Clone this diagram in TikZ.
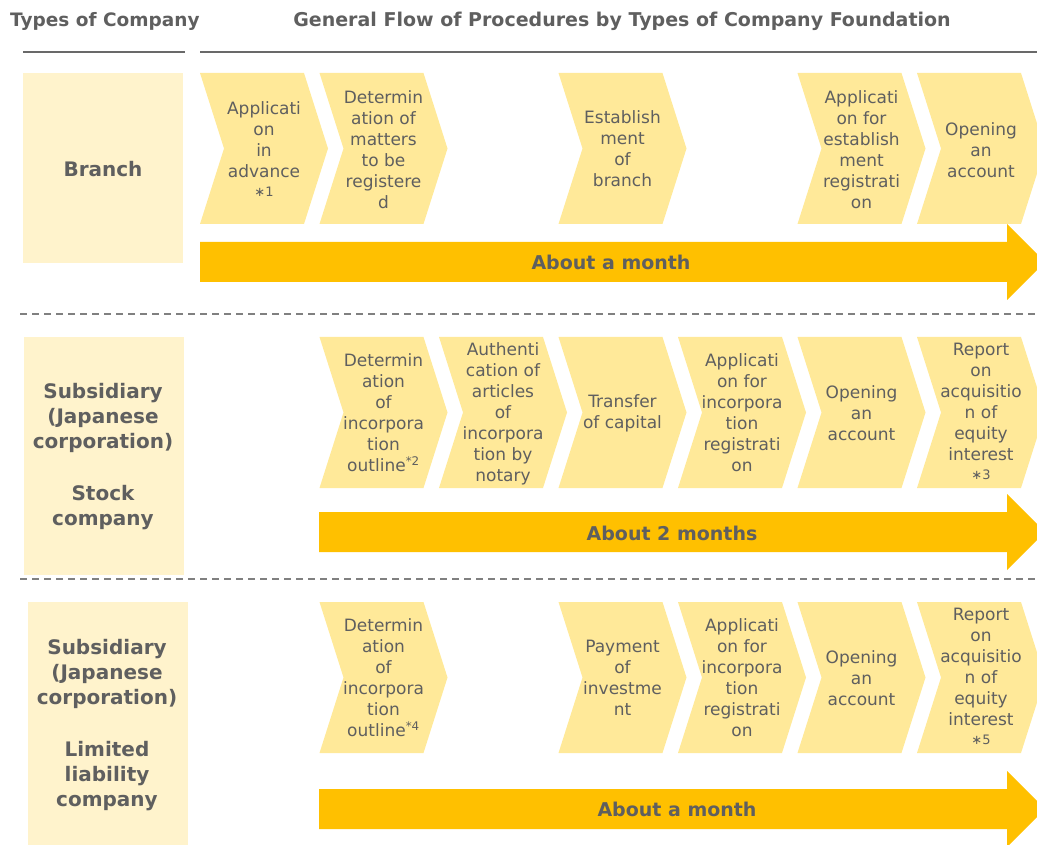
\documentclass[tikz,border=0pt]{standalone}
\usepackage{fontspec}
\setmainfont{DejaVu Sans}
\definecolor{boxyellow}{RGB}{255,243,204}
\definecolor{stepyellow}{RGB}{255,233,153}
\definecolor{barorange}{RGB}{255,192,0}
\definecolor{labelgray}{RGB}{95,95,95}
\definecolor{rulegray}{RGB}{105,105,105}
\definecolor{dashgray}{RGB}{128,128,128}
\tikzset{
	steptext/.style={align=center,text=labelgray,inner sep=0pt,font=\fontsize{17}{21}\selectfont},
	typetext/.style={align=center,text=labelgray,inner sep=0pt,font=\fontsize{20}{25}\selectfont\bfseries},
	headtext/.style={text=labelgray,inner sep=0pt,font=\fontsize{18.5}{22}\selectfont\bfseries},
	bartext/.style={text=labelgray,inner sep=0pt,font=\fontsize{19}{23}\selectfont\bfseries},
	typebox/.style={fill=boxyellow},
	chev/.style={fill=stepyellow},
	bigbar/.style={fill=barorange},
	headrule/.style={draw=rulegray,line width=2.5pt},
	rowsep/.style={draw=dashgray,line width=1.5pt,dash pattern=on 7pt off 5pt}
}
\newcommand{\fnmark}[1]{{\fontsize{13}{13}\selectfont ∗#1}}
\begin{document}
\begin{tikzpicture}[x=1pt,y=-1pt]
		\useasboundingbox (0,0) rectangle (1037,845);
		\clip (0,0) rectangle (1037,845);
			\node (hdtype) [headtext,anchor=west] at (10,21) {Types of Company};
			\node (hdflow) [headtext,font=\fontsize{19}{22}\selectfont\bfseries] at (622,21) {General Flow of Procedures by Types of Company Foundation};
			\draw [headrule] (23,52) -- (185,52);
			\draw [headrule] (200,52) -- (1037,52);
			\draw [rowsep] (20,314) -- (1037,314);
			\draw [rowsep] (20,579) -- (1037,579);
			\fill [typebox] (23,73) rectangle (183,263);
			\fill [typebox] (24,337) rectangle (184,575);
			\fill [typebox] (28,602) rectangle (188,845);
			\node (branch) [typetext] at (103,169) {Branch};
			\node (stock) [typetext] at (103,457) {Subsidiary\\(Japanese\\corporation)\\[27pt]Stock\\company};
			\node (llc) [typetext] at (107,725) {Subsidiary\\(Japanese\\corporation)\\[27pt]Limited\\liability\\company};
			\foreach \x/\y in {200/73,319.5/73,558.5/73,797.5/73,917/73,
				319.5/337,439/337,558.5/337,678/337,797.5/337,917/337,
				319.5/602,558.5/602,678/602,797.5/602,917/602}
				\fill [chev] (\x,\y) -- ++(104,0) -- ++(24,75.5) -- ++(-24,75.5) -- ++(-104,0) -- ++(24,-75.5) -- cycle;
			\node (advance) [steptext] at (264,149) {Applicati\\on\\in\\advance\\[-2pt]\fnmark{1}};
			\node (matters) [steptext] at (383.5,149.5) {Determin\\ation of\\matters\\to be\\registere\\d};
			\node (estab) [steptext] at (622.5,149) {Establish\\ment\\of\\branch};
			\node (estabreg) [steptext] at (861.5,149.5) {Applicati\\on for\\establish\\ment\\registrati\\on};
			\node (accbranch) [steptext] at (981,150) {Opening\\an\\account};
			\node (outlinestock) [steptext] at (383.5,412.5) {Determin\\ation\\of\\incorpora\\tion\\outline\textsuperscript{*2}};
			\node (notary) [steptext] at (503,413.5) {Authenti\\cation of\\articles\\of\\incorpora\\tion by\\notary};
			\node (capital) [steptext] at (622.5,413) {Transfer\\of capital};
			\node (regstock) [steptext] at (742,413) {Applicati\\on for\\incorpora\\tion\\registrati\\on};
			\node (accstock) [steptext] at (861.5,413.5) {Opening\\an\\account};
			\node (reportstock) [steptext] at (981,411) {Report\\on\\acquisitio\\n of\\equity\\interest\\[-2pt]\fnmark{3}};
			\node (outlinellc) [steptext] at (383.5,677.5) {Determin\\ation\\of\\incorpora\\tion\\outline\textsuperscript{*4}};
			\node (invest) [steptext] at (622.5,678) {Payment\\of\\investme\\nt};
			\node (regllc) [steptext] at (742,678) {Applicati\\on for\\incorpora\\tion\\registrati\\on};
			\node (accllc) [steptext] at (861.5,678.5) {Opening\\an\\account};
			\node (reportllc) [steptext] at (981,676) {Report\\on\\acquisitio\\n of\\equity\\interest\\[-2pt]\fnmark{5}};
			\fill [bigbar] (200,242) -- (1007,242) -- (1007,224) -- (1045,262) -- (1007,300) -- (1007,282) -- (200,282) -- cycle;
			\fill [bigbar] (319,512) -- (1007,512) -- (1007,494) -- (1045,532) -- (1007,570) -- (1007,552) -- (319,552) -- cycle;
			\fill [bigbar] (319,789) -- (1007,789) -- (1007,771) -- (1045,809) -- (1007,847) -- (1007,829) -- (319,829) -- cycle;
			\node (month1) [bartext] at (611,262) {About a month};
			\node (month2) [bartext] at (672,533) {About 2 months};
			\node (month3) [bartext] at (677,809) {About a month};
		\end{tikzpicture}
\end{document}
